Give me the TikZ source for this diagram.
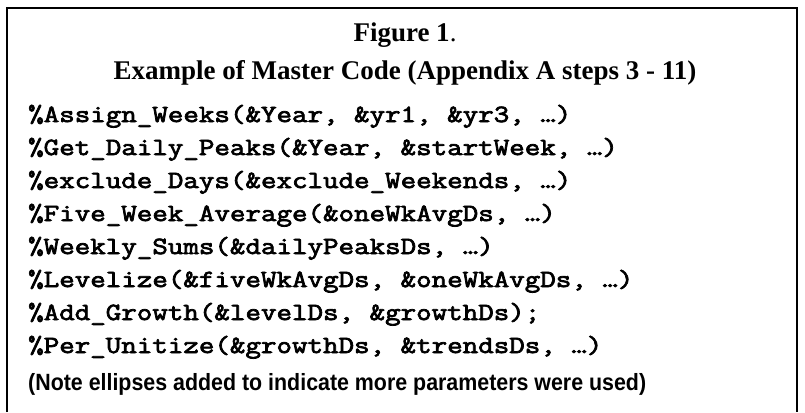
\documentclass[tikz,border=0pt]{standalone}
\usepackage{fontspec}
\setmainfont{Liberation Serif}
\newfontfamily\codefont[FakeStretch=1.22,FakeBold=3]{Latin Modern Mono}
\newfontfamily\notefont[FakeStretch=0.91]{Liberation Sans}
\usetikzlibrary{positioning}

\begin{document}
\begin{tikzpicture}[x=1bp,y=-1bp,
  caption/.style={font=\fontsize{27bp}{31bp}\selectfont\bfseries,anchor=base,inner sep=0pt},
  codeline/.style={font=\fontsize{24.7bp}{29bp}\selectfont\codefont,anchor=base west,inner sep=0pt},
  remark/.style={font=\fontsize{23.5bp}{27bp}\selectfont\notefont\bfseries,anchor=base west,inner sep=0pt},
  frame/.style={line width=2bp,black}]
 \useasboundingbox (0,0) rectangle (805,412);
 % box open at the bottom
 \draw[frame] (7,412) -- (7,8) -- (797,8) -- (797,412);
 \node[caption] (fig) at (405,41) {Figure 1\mdseries.};
 \node[caption] (ttl) at (405,79) {Example of Master Code (Appendix A steps 3 - 11)};
 \foreach \txt [count=\i] in {%
   {\%Assign\_Weeks(\&Year, \&yr1, \&yr3, …)},
   {\%Get\_Daily\_Peaks(\&Year, \&startWeek, …)},
   {\%exclude\_Days(\&exclude\_Weekends, …)},
   {\%Five\_Week\_Average(\&oneWkAvgDs, …)},
   {\%Weekly\_Sums(\&dailyPeaksDs, …)},
   {\%Levelize(\&fiveWkAvgDs, \&oneWkAvgDs, …)},
   {\%Add\_Growth(\&levelDs, \&growthDs);},
   {\%Per\_Unitize(\&growthDs, \&trendsDs, …)}}
  \node[codeline] (code\i) at (28,{89+33*\i}) {\txt};
 \node[remark] (note) at (28,390) {(Note ellipses added to indicate more parameters were used)};
\end{tikzpicture}
\end{document}
